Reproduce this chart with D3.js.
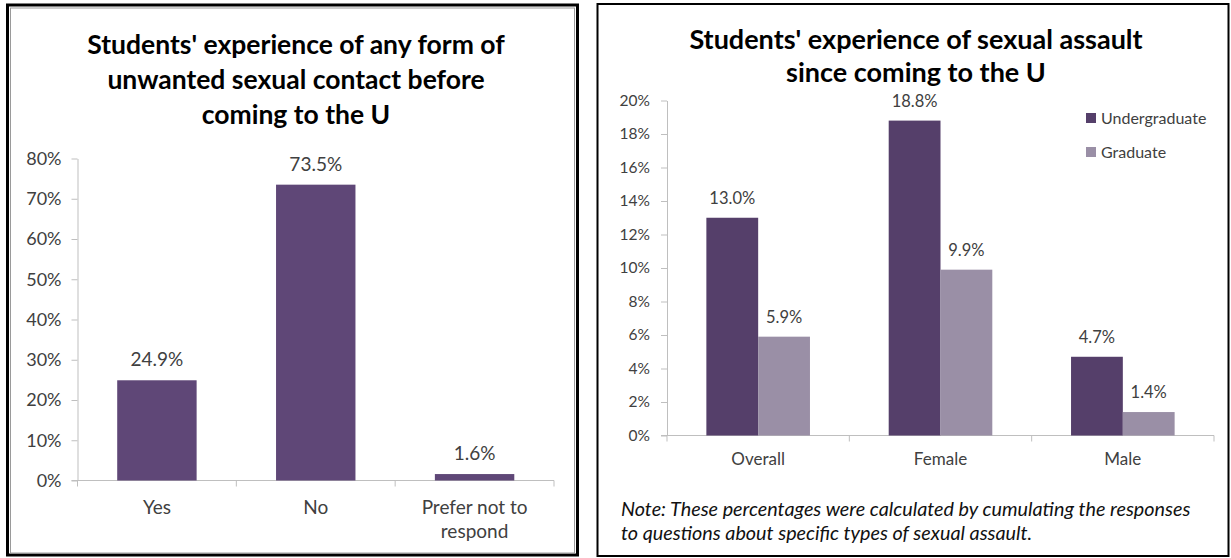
<!DOCTYPE html>
<html>
<head>
<meta charset="utf-8">
<script src="https://cdn.jsdelivr.net/npm/d3@7"></script>
<style>
  html, body { margin: 0; padding: 0; background: #fff; }
  svg { display: block; }
  text { font-family: Lato, "Open Sans", sans-serif; }
</style>
</head>
<body>
<svg id="chart" width="1231" height="558"></svg>
<script>
// Chart 1: unwanted sexual contact before coming to the U
const contactCategories = ["Yes", "No", "Prefer not to respond"];
const contactValues = [24.9, 73.5, 1.6];
const contactTicks = [0, 10, 20, 30, 40, 50, 60, 70, 80];

// Chart 2: sexual assault since coming to the U
const assaultCategories = ["Overall", "Female", "Male"];
const assaultSeries = ["Undergraduate", "Graduate"];
const undergraduateValues = [13.0, 18.8, 4.7];
const graduateValues = [5.9, 9.9, 1.4];
const assaultTicks = [0, 2, 4, 6, 8, 10, 12, 14, 16, 18, 20];

const svg = d3.select("#chart");
const axisColor = "#bfbfbf";
const labelColor = "#404040";

// ---------- panel frames ----------
svg.append("rect").attr("x", 7.5).attr("y", 5).attr("width", 570).attr("height", 550)
  .attr("fill", "none").attr("stroke", "#000").attr("stroke-width", 3);
svg.append("rect").attr("x", 10.5).attr("y", 8).attr("width", 564).attr("height", 545)
  .attr("fill", "none").attr("stroke", "#9a9a9a").attr("stroke-width", 1);
svg.append("rect").attr("x", 597.5).attr("y", 4).attr("width", 631).attr("height", 552)
  .attr("fill", "none").attr("stroke", "#000").attr("stroke-width", 2);

// ---------- left chart ----------
const left = svg.append("g");
left.append("text").attr("text-anchor", "middle")
  .attr("font-size", 26.5).attr("font-weight", "bold").attr("fill", "#000")
  .selectAll("tspan")
  .data(["Students' experience of any form of", "unwanted sexual contact before", "coming to the U"])
  .join("tspan").attr("x", 296).attr("y", (d, i) => 54 + i * 35).text(d => d);

const x1 = d3.scaleBand().domain(contactCategories).range([77.5, 554]);
const y1 = d3.scaleLinear().domain([0, 80]).range([480.5, 158.5]);

const yAxis1 = d3.axisLeft(y1).tickValues(contactTicks).tickSize(6).tickSizeOuter(0)
  .tickFormat(d => d + "%");
left.append("g").attr("transform", "translate(77.5,0)").call(yAxis1)
  .call(g => g.select(".domain").attr("stroke", axisColor))
  .call(g => g.selectAll(".tick line").attr("stroke", axisColor))
  .call(g => g.selectAll(".tick text").attr("font-family", "Lato, sans-serif")
    .attr("font-size", 18).attr("fill", labelColor).attr("x", -16));

// x axis baseline and boundary ticks
left.append("line").attr("x1", 71.5).attr("x2", x1.range()[1]).attr("y1", y1(0)).attr("y2", y1(0))
  .attr("stroke", axisColor);
const bounds1 = contactCategories.map(c => x1(c)).concat([x1.range()[1]]);
left.selectAll(".xb").data(bounds1).join("line")
  .attr("x1", d => d).attr("x2", d => d).attr("y1", y1(0)).attr("y2", y1(0) + 6)
  .attr("stroke", axisColor);

left.selectAll(".bar").data(contactCategories).join("rect")
  .attr("x", c => x1(c) + x1.bandwidth() * 0.25)
  .attr("width", x1.bandwidth() * 0.5)
  .attr("y", (c, i) => y1(contactValues[i]))
  .attr("height", (c, i) => y1(0) - y1(contactValues[i]))
  .attr("fill", "#5f4777");

left.selectAll(".val").data(contactCategories).join("text")
  .attr("x", c => x1(c) + x1.bandwidth() / 2)
  .attr("y", (c, i) => y1(contactValues[i]) - 14)
  .attr("text-anchor", "middle").attr("font-size", 19).attr("fill", labelColor)
  .text((c, i) => contactValues[i].toFixed(1) + "%");

const catLines1 = { "Prefer not to respond": ["Prefer not to", "respond"] };
left.selectAll(".cat").data(contactCategories).join("text")
  .attr("text-anchor", "middle").attr("font-size", 19).attr("fill", labelColor)
  .each(function (c) {
    const lines = catLines1[c] || [c];
    d3.select(this).selectAll("tspan").data(lines).join("tspan")
      .attr("x", x1(c) + x1.bandwidth() / 2)
      .attr("y", (d, i) => 514 + i * 24).text(d => d);
  });

// ---------- right chart ----------
const right = svg.append("g");
right.append("text").attr("text-anchor", "middle")
  .attr("font-size", 27).attr("font-weight", "bold").attr("fill", "#000")
  .selectAll("tspan")
  .data(["Students' experience of sexual assault", "since coming to the U"])
  .join("tspan").attr("x", 916).attr("y", (d, i) => 49 + i * 33).text(d => d);

const x2 = d3.scaleBand().domain(assaultCategories).range([667, 1214]);
const xs = d3.scaleBand().domain(assaultSeries).range([0, x2.bandwidth()]).paddingOuter(0.76);
const y2 = d3.scaleLinear().domain([0, 20]).range([435.5, 100.5]);
const color = d3.scaleOrdinal().domain(assaultSeries).range(["#553f6a", "#9a8fa6"]);

const yAxis2 = d3.axisLeft(y2).tickValues(assaultTicks).tickSize(6).tickSizeOuter(0)
  .tickFormat(d => d + "%");
right.append("g").attr("transform", "translate(667,0)").call(yAxis2)
  .call(g => g.select(".domain").attr("stroke", axisColor))
  .call(g => g.selectAll(".tick line").attr("stroke", axisColor))
  .call(g => g.selectAll(".tick text").attr("font-family", "Lato, sans-serif")
    .attr("font-size", 15.5).attr("fill", labelColor).attr("x", -17));

right.append("line").attr("x1", 661).attr("x2", x2.range()[1]).attr("y1", y2(0)).attr("y2", y2(0))
  .attr("stroke", axisColor);
const bounds2 = assaultCategories.map(c => x2(c)).concat([x2.range()[1]]);
right.selectAll(".xb").data(bounds2).join("line")
  .attr("x1", d => d).attr("x2", d => d).attr("y1", y2(0)).attr("y2", y2(0) + 6)
  .attr("stroke", axisColor);

const seriesValues = { "Undergraduate": undergraduateValues, "Graduate": graduateValues };
const groups = right.selectAll(".grp").data(assaultCategories).join("g")
  .attr("transform", c => `translate(${x2(c)},0)`);
groups.each(function (c, ci) {
  const g = d3.select(this);
  const rows = assaultSeries.map(s => ({ s, v: seriesValues[s][ci] }));
  g.selectAll("rect").data(rows).join("rect")
    .attr("x", d => xs(d.s)).attr("width", xs.bandwidth())
    .attr("y", d => y2(d.v)).attr("height", d => y2(0) - y2(d.v))
    .attr("fill", d => color(d.s));
  g.selectAll("text").data(rows).join("text")
    .attr("x", d => xs(d.s) + xs.bandwidth() / 2)
    .attr("y", d => y2(d.v) - 14)
    .attr("text-anchor", "middle").attr("font-size", 16.5).attr("fill", labelColor)
    .text(d => d.v.toFixed(1) + "%");
});

right.selectAll(".cat").data(assaultCategories).join("text")
  .attr("x", c => x2(c) + x2.bandwidth() / 2).attr("y", 465)
  .attr("text-anchor", "middle").attr("font-size", 17).attr("fill", labelColor)
  .text(c => c);

// legend
const legend = right.selectAll(".leg").data(assaultSeries).join("g")
  .attr("transform", (s, i) => `translate(1086,${113 + i * 34})`);
legend.append("rect").attr("width", 10).attr("height", 10).attr("fill", s => color(s));
legend.append("text").attr("x", 15).attr("y", 10.5).attr("font-size", 16)
  .attr("fill", labelColor).text(s => s);

// footnote
right.append("text").attr("font-size", 19.8).attr("font-style", "italic").attr("fill", "#111")
  .selectAll("tspan")
  .data(["Note: These percentages were calculated by cumulating the responses",
         "to questions about specific types of sexual assault."])
  .join("tspan").attr("x", 621).attr("y", (d, i) => 516 + i * 24).text(d => d);
</script>
</body>
</html>
